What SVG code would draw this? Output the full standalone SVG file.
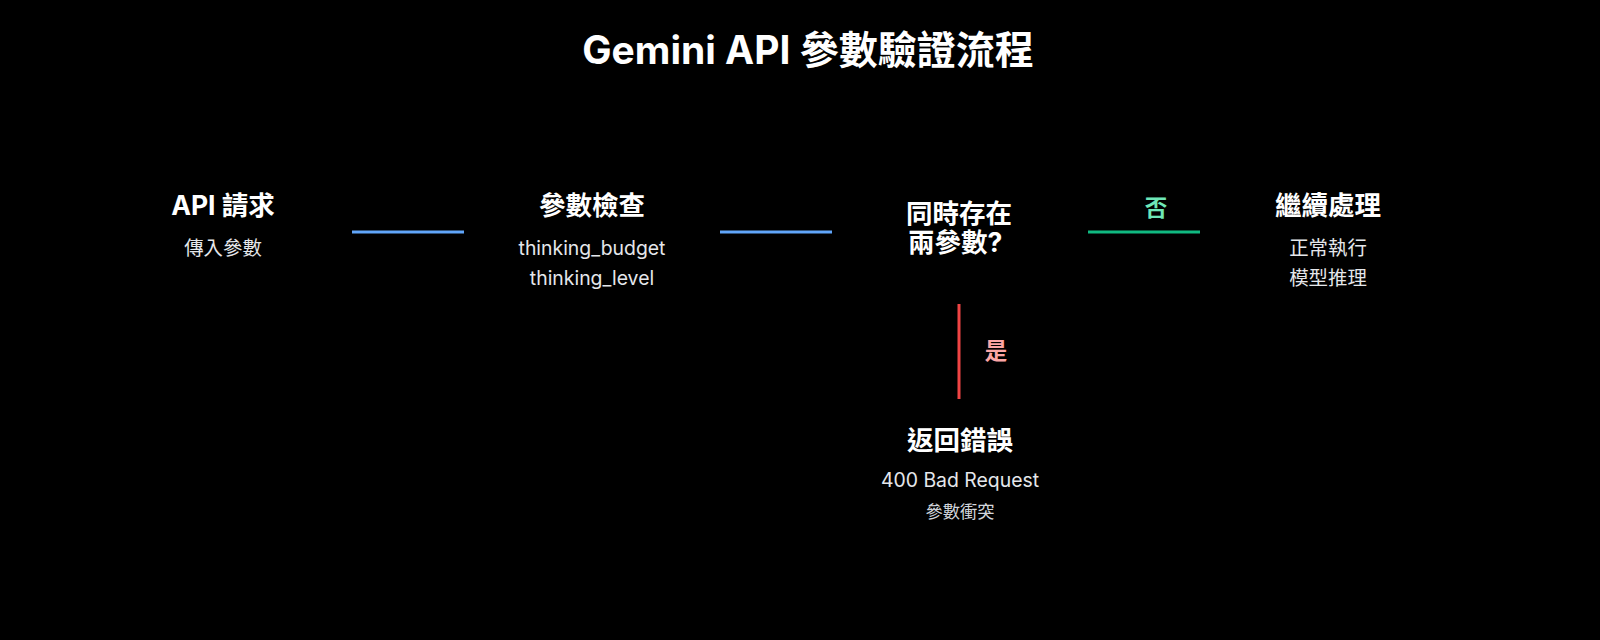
<svg xmlns="http://www.w3.org/2000/svg" width="1600" height="640" viewBox="0 0 1600 640">
<style>
text{font-family:"Inter","Liberation Sans","Noto Sans CJK TC",sans-serif;text-anchor:middle}
.t{fill:#fff;font-size:26.5px;font-weight:700}
.s{fill:#e5e7eb;font-size:19.4px}
.x{fill:#d1d5db;font-size:17.3px}
.c{stroke-width:3;fill:none}
</style>
<rect width="1600" height="640" fill="#000"/>
<text x="808" y="64" fill="#fff" font-size="39" font-weight="700">Gemini API 參數驗證流程</text>
<g id="connectors">
<line class="c" x1="352" y1="232" x2="464" y2="232" stroke="#60a5fa"/>
<line class="c" x1="720" y1="232" x2="832" y2="232" stroke="#60a5fa"/>
<line class="c" x1="1088" y1="232" x2="1200" y2="232" stroke="#10b981"/>
<text x="1156" y="216" fill="#6ee7b7" font-size="22.5" font-weight="700">否</text>
<line class="c" x1="959" y1="304" x2="959" y2="399" stroke="#ef4444"/>
<text x="996" y="359" fill="#fca5a5" font-size="22.5" font-weight="700">是</text>
</g>
<g id="n1"><text class="t" x="223" y="215">API 請求</text><text class="s" x="223" y="255">傳入參數</text></g>
<g id="n2"><text class="t" x="592" y="215">參數檢查</text><text class="s" x="592" y="255">thinking_budget</text><text class="s" x="592" y="285">thinking_level</text></g>
<g id="n3"><text class="t" x="959" y="223">同時存在</text><text class="t" x="908" y="252" style="text-anchor:start">兩參數?</text></g>
<g id="n4"><text class="t" x="1328" y="215">繼續處理</text><text class="s" x="1328" y="255">正常執行</text><text class="s" x="1328" y="285">模型推理</text></g>
<g id="n5"><text class="t" x="960" y="450">返回錯誤</text><text class="s" x="960" y="487">400 Bad Request</text><text class="x" x="960" y="518">參數衝突</text></g>
</svg>
